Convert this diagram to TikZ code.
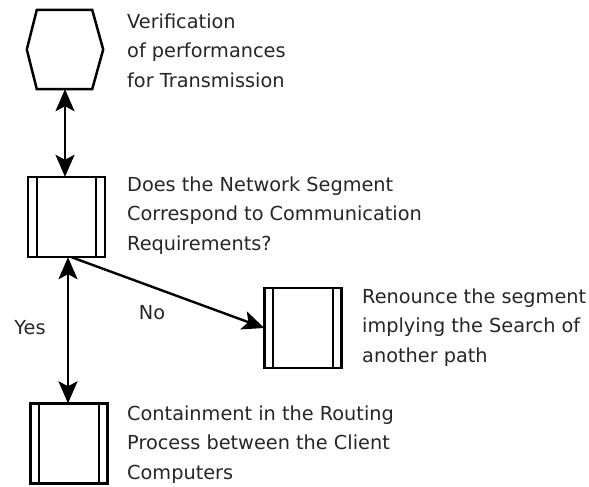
\documentclass[tikz,border=0pt]{standalone}
\usepackage{fontspec}
\setmainfont{DejaVu Sans}
\usetikzlibrary{arrows.meta}
\begin{document}
\begin{tikzpicture}[x=1pt,y=-1pt,
  txt/.style={anchor=west,align=left,inner sep=0pt,text=black!85,font=\fontsize{19.3}{29.5}\selectfont},
  lbl/.style={inner sep=0pt,text=black!85,font=\fontsize{19.3}{22}\selectfont},
  procbox/.style={draw=none,minimum width=77pt,minimum height=80pt,inner sep=0pt},
  conn/.style={line width=2.4pt,{Stealth[length=22pt,width=19pt,inset=5pt]}-{Stealth[length=22pt,width=19pt,inset=5pt]}},
  oneway/.style={line width=2.4pt,-{Stealth[length=22pt,width=19pt,inset=5pt]}}]
\useasboundingbox (0,0) rectangle (589,487);
\fill[white] (0,0) rectangle (589,487);
\newcommand{\procdraw}[1]{%
  \draw[line width=2.5pt] (#1.north west) rectangle (#1.south east);
  \draw[line width=2pt] ([xshift=9pt]#1.north west) -- ([xshift=9pt]#1.south west);
  \draw[line width=2pt] ([xshift=-9pt]#1.north east) -- ([xshift=-9pt]#1.south east);}
\node[procbox,minimum width=76pt,minimum height=79pt] (hex) at (65,49.5) {};
\draw[line width=2.5pt,line join=miter] ([xshift=10pt]hex.north west) -- ([xshift=-11pt]hex.north east) -- (hex.east) -- ([xshift=-11pt]hex.south east) -- ([xshift=10pt]hex.south west) -- (hex.west) -- cycle;
\node[procbox] (b1) at (66.5,217) {};
\procdraw{b1}
\node[procbox] (b2) at (303,328) {};
\procdraw{b2}
\node[procbox] (b3) at (69,443.5) {};
\procdraw{b3}
% texts
\node[txt] (t1) at (127,50.5) {Verification\\of performances\\for Transmission};
\node[txt] (t2) at (127,215.5) {Does the Network Segment\\Correspond to Communication\\Requirements?};
\node[txt] (t3) at (362,327.5) {Renounce the segment\\implying the Search of\\another path};
\node[txt] (t4) at (127,444.5) {Containment in the Routing\\Process between the Client\\Computers};
% connectors
\coordinate (h1) at ([xshift=0pt]hex.south);
\draw[conn] (h1) -- (h1 |- b1.north);
\coordinate (s1) at ([xshift=1.5pt]b1.south);
\draw[conn] (s1) -- (s1 |- b3.north);
\draw[oneway] ([xshift=5pt]b1.south) -- (b2.west);
\node[lbl] (no) at (152,313) {No};
\node[lbl] (yes) at (30,328) {Yes};
\end{tikzpicture}
\end{document}
